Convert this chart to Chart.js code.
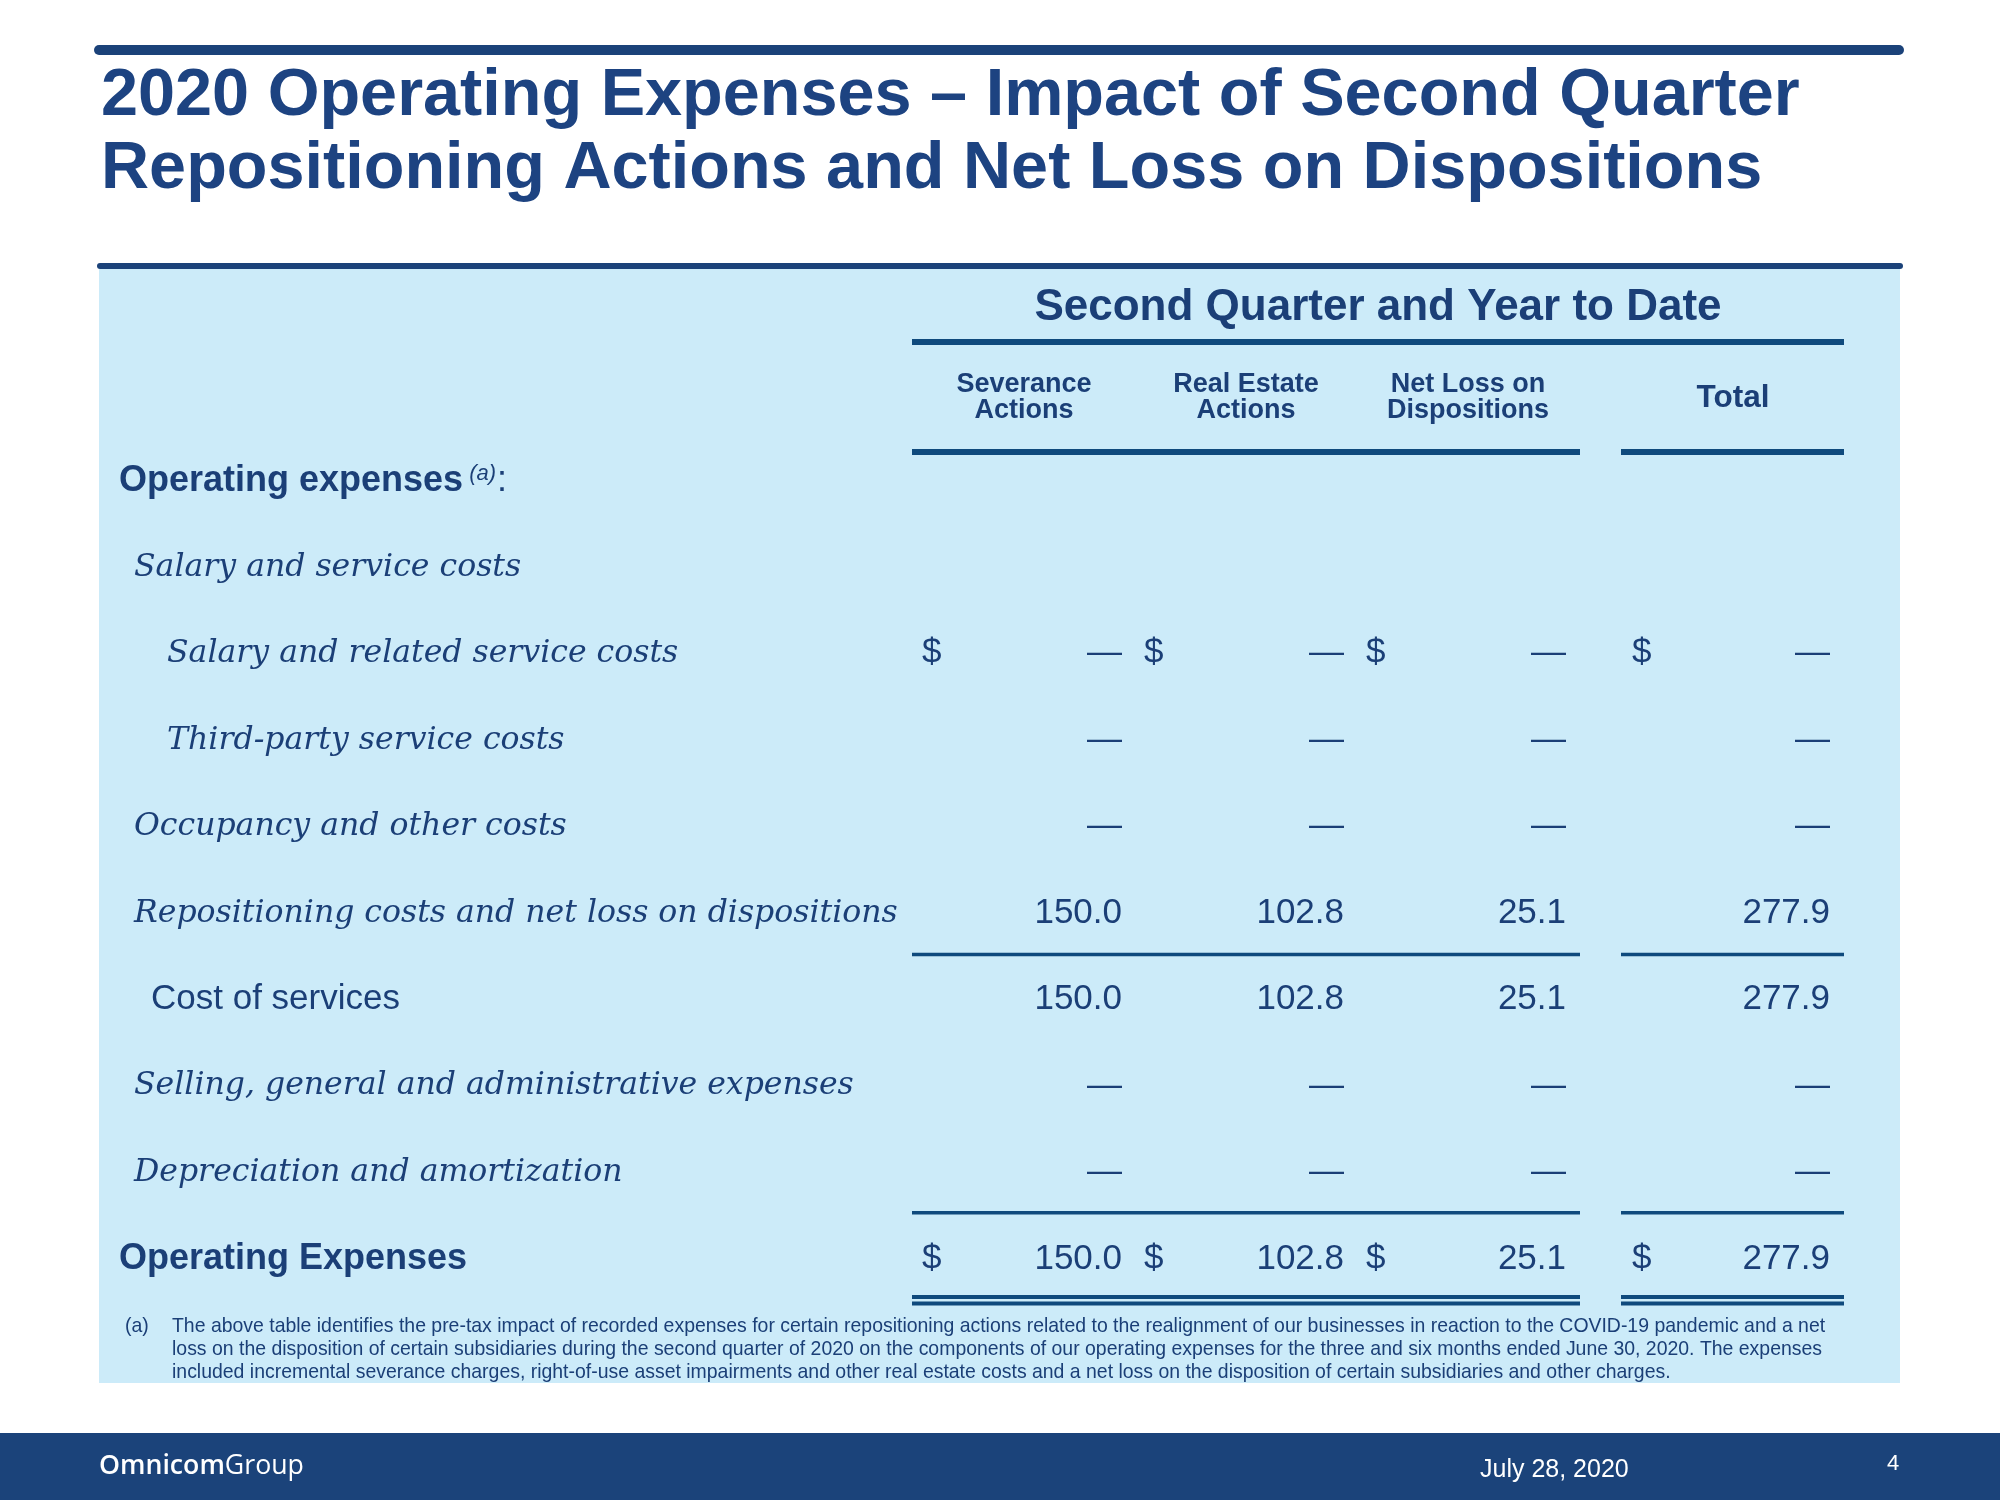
<!DOCTYPE html>
<html>
<head>
<meta charset="utf-8">
<script src="https://cdn.jsdelivr.net/npm/chart.js@4.4.1/dist/chart.umd.min.js"></script>
<style>
  html, body { margin: 0; padding: 0; background: #ffffff; }
  #wrap { width: 2000px; height: 1500px; position: relative; }
  canvas { display: block; }
</style>
</head>
<body>
<div id="wrap"><canvas id="c" width="2000" height="1500"></canvas></div>
<script>
// ---------------- DATA ----------------
const titleLines = [
  '2020 Operating Expenses \u2013 Impact of Second Quarter',
  'Repositioning Actions and Net Loss on Dispositions'
];
const groupHeader = 'Second Quarter and Year to Date';
const columns = ['Severance Actions', 'Real Estate Actions', 'Net Loss on Dispositions', 'Total'];
const columnHeaderLines = [['Severance', 'Actions'], ['Real Estate', 'Actions'], ['Net Loss on', 'Dispositions'], ['Total']];
const rowLabels = [
  'Operating expenses',
  'Salary and service costs',
  'Salary and related service costs',
  'Third-party service costs',
  'Occupancy and other costs',
  'Repositioning costs and net loss on dispositions',
  'Cost of services',
  'Selling, general and administrative expenses',
  'Depreciation and amortization',
  'Operating Expenses'
];
const rowKinds = ['section', 'group', 'item', 'item', 'group', 'group', 'subtotal', 'group', 'group', 'total'];
const severanceActions      = [null, null, 0, 0, 0, 150.0, 150.0, 0, 0, 150.0];
const realEstateActions     = [null, null, 0, 0, 0, 102.8, 102.8, 0, 0, 102.8];
const netLossOnDispositions = [null, null, 0, 0, 0, 25.1, 25.1, 0, 0, 25.1];
const totalValues           = [null, null, 0, 0, 0, 277.9, 277.9, 0, 0, 277.9];
const dollarRows = ['Salary and related service costs', 'Operating Expenses'];
const footnoteMarker = '(a)';
const footnoteLines = [
  'The above table identifies the pre-tax impact of recorded expenses for certain repositioning actions related to the realignment of our businesses in reaction to the COVID-19 pandemic and a net',
  'loss on the disposition of certain subsidiaries during the second quarter of 2020 on the components of our operating expenses for the three and six months ended June 30, 2020. The expenses',
  'included incremental severance charges, right-of-use asset impairments and other real estate costs and a net loss on the disposition of certain subsidiaries and other charges.'
];
const footerBrand = ['Omnicom', 'Group'];
const footerDate = 'July 28, 2020';
const pageNumber = '4';

// ---------------- STYLE ----------------
const C_TITLE = '#1D4381';
const C_TEXT = '#1B3F77';
const C_RULE = '#0F4A7D';
const C_BAR = '#1B4279';
const C_PANEL = '#CCEBF9';
const C_FOOTER = '#1B437A';
const SANS = '"Liberation Sans", Arial, sans-serif';
const SERIF = '"DejaVu Serif", serif';
const OPEN = '"Open Sans", sans-serif';
const colHalf = 112;
const totalGap = 42;

const seriesList = [severanceActions, realEstateActions, netLossOnDispositions, totalValues];

function fmt(v) { return v === 0 ? '\u2014' : v.toFixed(1); }
function fitSize(ctx, text, fontFn, target) {
  ctx.font = fontFn(100);
  return 100 * target / ctx.measureText(text).width;
}
function hline(ctx, x1, x2, y, w) {
  ctx.lineWidth = w;
  ctx.beginPath(); ctx.moveTo(x1, y); ctx.lineTo(x2, y); ctx.stroke();
}

const tablePlugin = {
  id: 'tableDraw',
  beforeDraw(chart) {
    const ctx = chart.ctx;
    const W = chart.width, H = chart.height;
    ctx.save();
    ctx.fillStyle = '#ffffff';
    ctx.fillRect(0, 0, W, H);
    // panel
    ctx.fillStyle = C_PANEL;
    ctx.fillRect(99, 269, 1801, 1114);
    // top bars
    ctx.strokeStyle = C_BAR;
    ctx.lineCap = 'round';
    hline(ctx, 99, 1899, 50, 10);
    hline(ctx, 100, 1900, 266, 6);
    ctx.lineCap = 'butt';
    // title
    ctx.fillStyle = C_TITLE;
    ctx.textAlign = 'left';
    ctx.textBaseline = 'alphabetic';
    ctx.font = 'bold 66.6px ' + SANS;
    ctx.fillText(titleLines[0], 101, 115);
    ctx.fillText(titleLines[1], 101, 188);
    // footer
    ctx.fillStyle = C_FOOTER;
    ctx.fillRect(0, 1433, W, H - 1433);
    ctx.fillStyle = '#ffffff';
    const bw = (s) => { ctx.font = '600 ' + s + 'px ' + OPEN; const a = ctx.measureText(footerBrand[0]).width; ctx.font = '400 ' + s + 'px ' + OPEN; return a + ctx.measureText(footerBrand[1]).width; };
    const bs = 100 * 205 / bw(100);
    ctx.font = '600 ' + bs + 'px ' + OPEN;
    ctx.fillText(footerBrand[0], 99, 1474);
    const w0 = ctx.measureText(footerBrand[0]).width;
    ctx.font = '400 ' + bs + 'px ' + OPEN;
    ctx.fillText(footerBrand[1], 99 + w0, 1474);
    ctx.font = '25px ' + SANS;
    ctx.fillText(footerDate, 1480, 1477);
    ctx.font = '22px ' + SANS;
    ctx.fillText(pageNumber, 1887, 1470);
    // footnote
    ctx.fillStyle = C_TEXT;
    const fs = fitSize(ctx, footnoteLines[0], s => s + 'px ' + SANS, 1654);
    ctx.font = fs + 'px ' + SANS;
    ctx.fillText(footnoteMarker, 125, 1332);
    footnoteLines.forEach((t, i) => ctx.fillText(t, 172, 1332 + i * 23));
    ctx.restore();
  },
  afterDatasetsDraw(chart) {
    const ctx = chart.ctx;
    const xs = chart.scales.x, ys = chart.scales.y;
    const colX = c => xs.getPixelForValue(c) + (c === columns.length - 1 ? totalGap : 0);
    const rowY = r => ys.getPixelForValue(r);
    ctx.save();
    // ---- header ----
    ctx.fillStyle = C_TEXT;
    ctx.textBaseline = 'alphabetic';
    ctx.textAlign = 'center';
    const left = colX(0) - colHalf, right = colX(columns.length - 1) + colHalf;
    ctx.font = 'bold 44px ' + SANS;
    ctx.fillText(groupHeader, (left + right) / 2, 320);
    columnHeaderLines.forEach((lines, c) => {
      if (lines.length === 2) {
        ctx.font = 'bold 27px ' + SANS;
        ctx.fillText(lines[0], colX(c), 392);
        ctx.fillText(lines[1], colX(c), 418);
      } else {
        ctx.font = 'bold 31.5px ' + SANS;
        ctx.fillText(lines[0], colX(c) + 1, 407);
      }
    });
    // ---- rules ----
    ctx.strokeStyle = C_RULE;
    const segs = [[colX(0) - colHalf, colX(2) + colHalf], [colX(3) - colHalf + 1, colX(3) + colHalf]];
    hline(ctx, left, right, 342, 6);
    segs.forEach(s => hline(ctx, s[0], s[1], 452, 6));
    const mid = (a, b) => (rowY(a) + rowY(b)) / 2;
    segs.forEach(s => hline(ctx, s[0], s[1], mid(5, 6) + 1, 3.5));
    segs.forEach(s => hline(ctx, s[0], s[1], mid(8, 9), 3.5));
    const last = rowLabels.length - 1;
    segs.forEach(s => { hline(ctx, s[0], s[1], rowY(last) + 41, 4); hline(ctx, s[0], s[1], rowY(last) + 47.5, 4); });
    // ---- row labels ----
    ctx.textAlign = 'left';
    const serifSize = fitSize(ctx, rowLabels[5], s => 'italic ' + s + 'px ' + SERIF, 764);
    rowLabels.forEach((lab, i) => {
      const y = rowY(i);
      const k = rowKinds[i];
      if (k === 'section' || k === 'total') {
        ctx.font = 'bold 36px ' + SANS;
        ctx.fillText(lab, 119, y + 13);
        if (k === 'section') {
          const w = ctx.measureText(lab).width;
          ctx.font = 'italic 22px ' + SANS;
          const mx = 119 + w + 6;
          ctx.fillText(footnoteMarker, mx, y + 2);
          const w2 = ctx.measureText(footnoteMarker).width;
          ctx.font = '36px ' + SANS;
          ctx.fillText(':', mx + w2 + 1, y + 13);
        }
      } else if (k === 'subtotal') {
        ctx.font = '35px ' + SANS;
        ctx.fillText(lab, 151, y + 12.5);
      } else {
        ctx.font = 'italic ' + serifSize + 'px ' + SERIF;
        ctx.fillText(lab, k === 'item' ? 167 : 134, y + serifSize * 0.36);
      }
    });
    // ---- values ----
    ctx.font = '35px ' + SANS;
    chart.data.datasets.forEach((ds, d) => {
      const meta = chart.getDatasetMeta(d);
      const shift = d === columns.length - 1 ? totalGap : 0;
      meta.data.forEach((el, j) => {
        const p = ds.data[j];
        const x = el.x + shift, y = el.y + 12.5;
        ctx.textAlign = 'right';
        ctx.fillText(fmt(p.v), x + 98, y);
        if (dollarRows.includes(p.y)) {
          ctx.textAlign = 'left';
          ctx.fillText('$', x - 102 + (d === 3 ? 2 : 0), y);
        }
      });
    });
    ctx.restore();
  }
};

function makeChart() {
  new Chart(document.getElementById('c'), {
    type: 'scatter',
    data: {
      datasets: seriesList.map((vals, d) => ({
        label: columns[d],
        data: rowLabels.map((r, i) => ({ x: columns[d], y: r, v: vals[i] })).filter(p => p.v !== null),
        pointRadius: 0,
        pointHoverRadius: 0,
        showLine: false
      }))
    },
    options: {
      responsive: false,
      animation: false,
      devicePixelRatio: 1,
      events: [],
      layout: { padding: { left: 1024, right: 310, top: 478, bottom: 244 } },
      plugins: { legend: { display: false }, tooltip: { enabled: false } },
      scales: {
        x: { type: 'category', labels: columns, offset: false, display: false },
        y: { type: 'category', labels: rowLabels, offset: false, display: false }
      }
    },
    plugins: [tablePlugin]
  });
}

const fontLoads = [
  'bold 66px "Liberation Sans"', '35px "Liberation Sans"', 'italic 20px "Liberation Sans"',
  'italic 30px "DejaVu Serif"', '600 27px "Open Sans"', '400 27px "Open Sans"'
].map(f => document.fonts.load(f).catch(() => null));
Promise.all(fontLoads).then(makeChart, makeChart);
</script>
</body>
</html>
